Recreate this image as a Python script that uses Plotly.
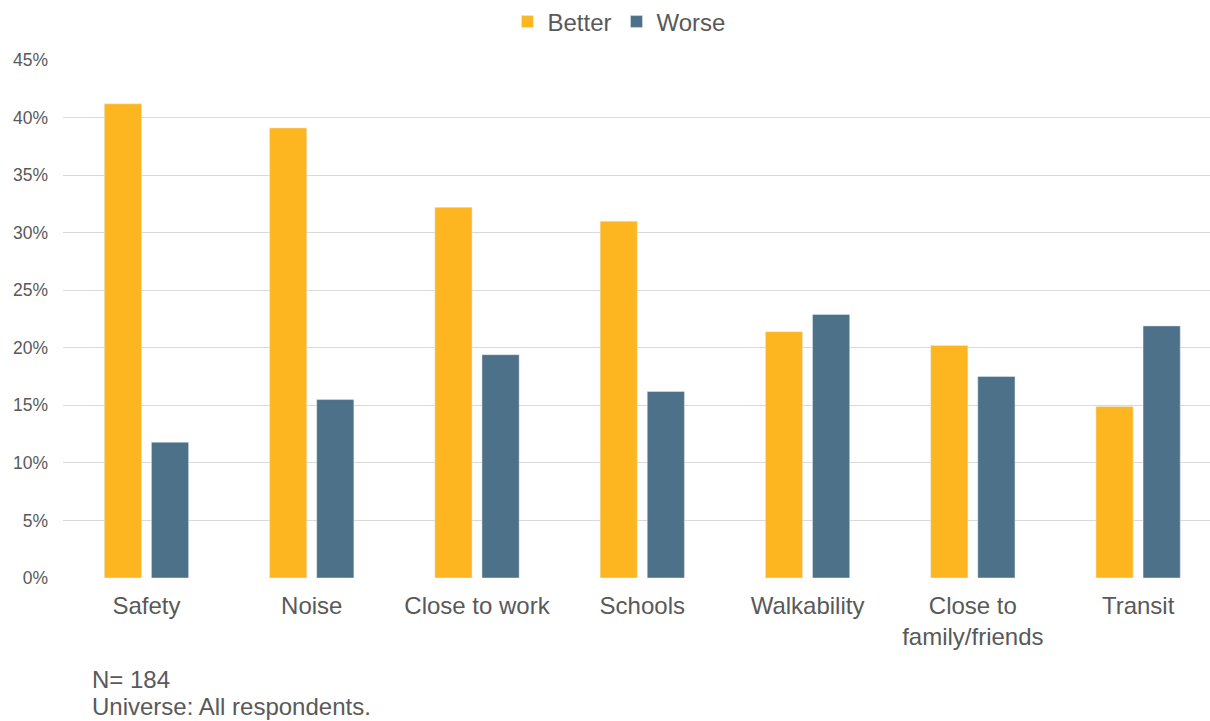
import plotly.graph_objects as go

categories = ["Safety", "Noise", "Close to work", "Schools", "Walkability", "Close to<br>family/friends", "Transit"]
better = [0.412, 0.391, 0.322, 0.310, 0.214, 0.202, 0.149]
worse = [0.118, 0.155, 0.194, 0.162, 0.229, 0.175, 0.219]
y_ticks = [0, 0.05, 0.10, 0.15, 0.20, 0.25, 0.30, 0.35, 0.40, 0.45]
y_tick_labels = ["0%", "5%", "10%", "15%", "20%", "25%", "30%", "35%", "40%", "45%"]

FONT = "Liberation Sans, Arial, sans-serif"
TXT = "#595959"

fig = go.Figure()
fig.add_trace(go.Bar(name="Better", x=categories, y=better, marker_color="#FDB620"))
fig.add_trace(go.Bar(name="Worse", x=categories, y=worse, marker_color="#4D7188"))

fig.update_layout(
    width=1210, height=721,
    margin=dict(l=63, r=0, t=60, b=143),
    paper_bgcolor="white", plot_bgcolor="white",
    barmode="group", bargap=0.43, bargroupgap=0.21,
    font=dict(family=FONT, color=TXT),
    showlegend=True,
    legend=dict(orientation="h", x=0.4847, xanchor="center", y=1 - 22/721, yanchor="middle",
                yref="container", font=dict(size=24, color=TXT), itemwidth=30,
                tracegroupgap=0, traceorder="normal"),
    xaxis=dict(range=[-0.505, 6.435], showgrid=False, showline=False, zeroline=False,
               tickfont=dict(size=24, color=TXT), ticklabelstandoff=11),
    yaxis=dict(range=[0, 0.45], tickvals=y_ticks, ticktext=y_tick_labels,
               showgrid=True, gridcolor="#D9D9D9", gridwidth=1, zeroline=False,
               showline=False, tickfont=dict(size=17.5, color=TXT), ticklabelstandoff=14),
    annotations=[
        dict(text="N= 184", xref="paper", yref="paper", x=(90-63)/1147, y=-(679-578)/518,
             xanchor="left", yanchor="middle", showarrow=False, font=dict(size=24, color=TXT)),
        dict(text="Universe: All respondents.", xref="paper", yref="paper", x=(90-63)/1147,
             y=-(706-578)/518, xanchor="left", yanchor="middle", showarrow=False,
             font=dict(size=24, color=TXT)),
    ],
)

fig.write_html("out.html")
